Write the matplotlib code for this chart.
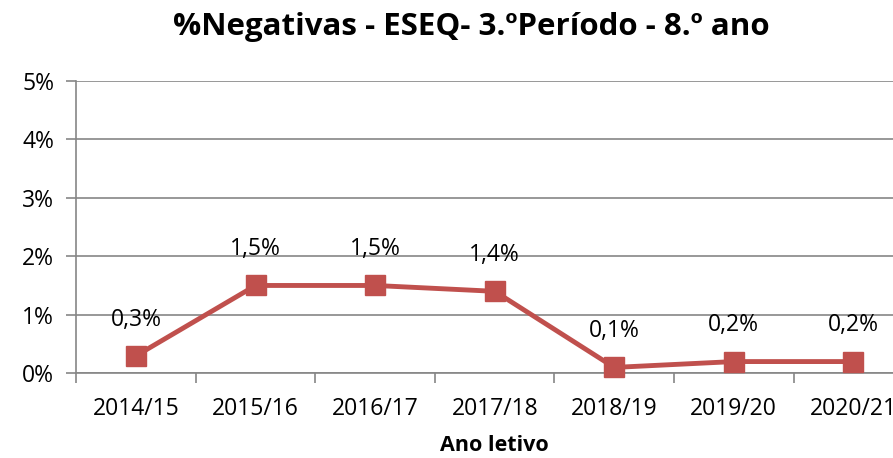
import matplotlib
matplotlib.use("Agg")
import matplotlib.pyplot as plt
import numpy as np

years = ["2014/15", "2015/16", "2016/17", "2017/18", "2018/19", "2019/20", "2020/21"]
negativas = [0.3, 1.5, 1.5, 1.4, 0.1, 0.2, 0.2]
labels = ["0,3%", "1,5%", "1,5%", "1,4%", "0,1%", "0,2%", "0,2%"]
y_ticks = [0, 1, 2, 3, 4, 5]

plt.rcParams["font.family"] = ["Open Sans", "DejaVu Sans"]
grey = "#868686"
red = "#C0504D"

fig = plt.figure(figsize=(8.93, 4.58), dpi=100)
ax = fig.add_axes([0.0855, 0.185, 0.937, 0.639])

x = np.arange(len(years))
ax.plot(x, negativas, color=red, lw=3.5, marker="s", ms=14, zorder=3, clip_on=False)
for xi, yi, lab in zip(x, negativas, labels):
    ax.annotate(lab, (xi, yi), xytext=(0, 26), textcoords="offset points",
                ha="center", va="center", fontsize=16.5)

ax.set_xlim(-0.5, len(years) - 0.5)
ax.set_ylim(0, 5)
ax.set_yticks(y_ticks)
ax.set_yticklabels([f"{v}%" for v in y_ticks], fontsize=16.5)
ax.yaxis.grid(True, color=grey, lw=1.2)
ax.set_axisbelow(True)

ax.set_xticks(x)
ax.set_xticklabels(years, fontsize=16.5)
ax.tick_params(axis="x", which="major", length=0, pad=17)
ax.set_xticks(np.arange(-0.5, len(years)), minor=True)
ax.tick_params(axis="x", which="minor", length=7, color=grey, width=1.2)
ax.tick_params(axis="y", length=7, color=grey, width=1.2, pad=9)

for side in ("top", "right"):
    ax.spines[side].set_visible(False)
for side in ("left", "bottom"):
    ax.spines[side].set_color(grey)
    ax.spines[side].set_linewidth(1.2)

ax.set_xlabel("Ano letivo", fontsize=15.5, fontweight="bold", labelpad=10)
fig.text(0.528, 0.94, "%Negativas - ESEQ- 3.ºPeríodo - 8.º ano",
         ha="center", va="center", fontsize=22.5, fontweight="bold")

fig.savefig("out.png", dpi=100)
